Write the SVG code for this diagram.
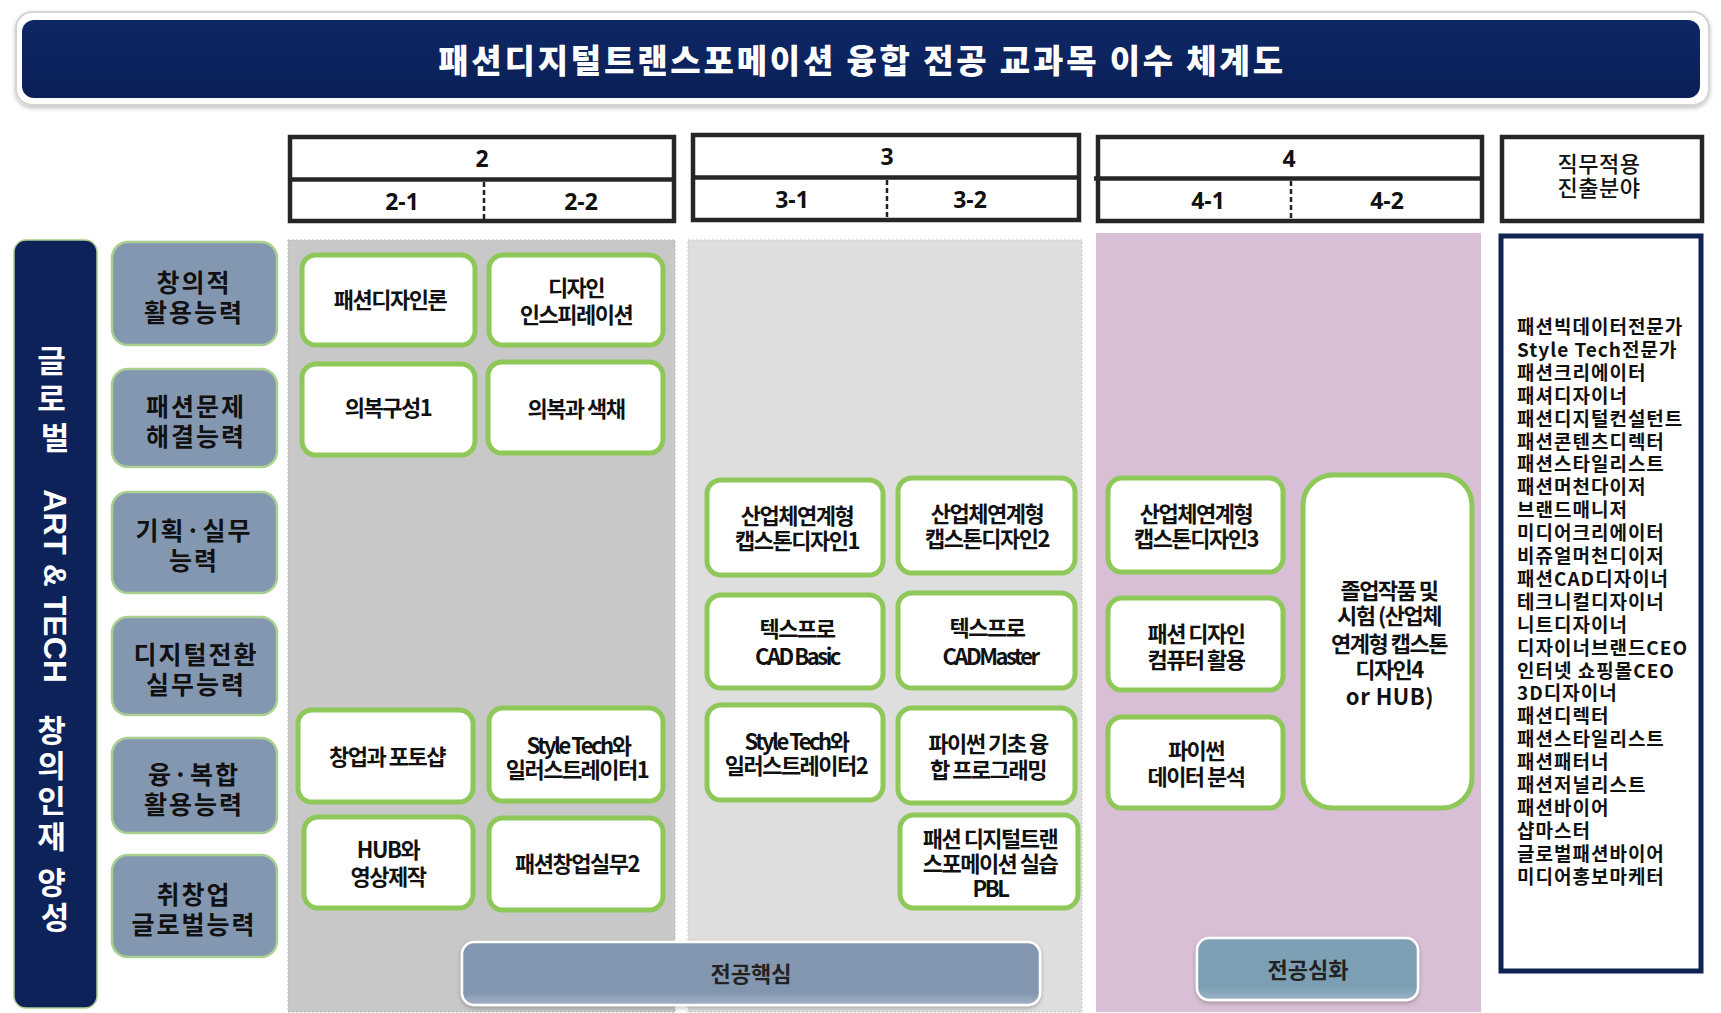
<svg xmlns="http://www.w3.org/2000/svg" width="1721" height="1013" viewBox="0 0 1721 1013">
<defs>
<style>
text{font-family:"Noto Sans CJK KR","Noto Sans",sans-serif;dominant-baseline:central;text-anchor:middle}
.title{font-size:33px;font-weight:900;fill:#fff;letter-spacing:2.8px}
.hdr{fill:#fff;stroke:#262626;stroke-width:4.5}
.hline{stroke:#262626;stroke-width:4.5}
.dash{stroke:#222;stroke-width:2.5;stroke-dasharray:5 3}
.yr{font-family:"Noto Sans","Liberation Sans",sans-serif;font-size:23px;font-weight:700;fill:#111}
.sem{font-family:"Noto Sans","Liberation Sans",sans-serif;font-size:23px;font-weight:700;fill:#111}
.jobh{font-size:22px;font-weight:500;fill:#111;letter-spacing:0.5px}
.vt{font-size:31px;font-weight:700;fill:#fff}
.vtl{font-family:"Liberation Sans","Noto Sans",sans-serif;font-size:32px;font-weight:700;fill:#fff}
.comp{fill:#8497B0;stroke:#A9D08E;stroke-width:2.5}
.ct{font-size:25px;font-weight:700;fill:#111;letter-spacing:2px}
.course{fill:#fff;stroke:#8DC859;stroke-width:5}
.cx{font-size:22px;font-weight:700;fill:#111;letter-spacing:-1.5px}
.cxc{font-size:22px;font-weight:700;fill:#111;letter-spacing:-2.5px}
.job{font-size:19px;font-weight:700;fill:#111;text-anchor:start;letter-spacing:1px}
.bart{font-size:22px;font-weight:700;fill:#222}
</style>
<linearGradient id="navy" x1="0" y1="0" x2="0" y2="1">
<stop offset="0" stop-color="#0E2866"/>
<stop offset="1" stop-color="#0A1F55"/>
</linearGradient>
<linearGradient id="core" x1="0" y1="0" x2="0" y2="1">
<stop offset="0" stop-color="#8497B0"/>
<stop offset="0.8" stop-color="#8396AF"/>
<stop offset="1" stop-color="#A3B1C5"/>
</linearGradient>
<linearGradient id="adv" x1="0" y1="0" x2="0" y2="1">
<stop offset="0" stop-color="#7FA1B6"/>
<stop offset="0.8" stop-color="#7C9EB3"/>
<stop offset="1" stop-color="#9DB6C6"/>
</linearGradient>
<filter id="sh" x="-5%" y="-20%" width="110%" height="140%">
<feDropShadow dx="0" dy="2" stdDeviation="2" flood-color="#000" flood-opacity="0.25"/>
</filter>
</defs>
<rect width="1721" height="1013" fill="#fff"/>

<g id="title">
<rect x="16" y="12" width="1693" height="93" rx="16" fill="#fff" stroke="#d4d4d4" stroke-width="2" filter="url(#sh)"/>
<rect x="22" y="20" width="1678" height="78" rx="12" fill="url(#navy)"/>
<text class="title" x="862" y="59">패션디지털트랜스포메이션 융합 전공 교과목 이수 체계도</text>
</g>

<g id="header-year2">
<rect class="hdr" x="290" y="137" width="384" height="84"/>
<line class="hline" x1="290" y1="179.5" x2="674" y2="179.5"/>
<line class="dash" x1="484" y1="182" x2="484" y2="219"/>
<text class="yr" x="482" y="158">2</text>
<text class="sem" x="402" y="201">2-1</text>
<text class="sem" x="581" y="201">2-2</text>
</g>
<g id="header-year3">
<rect class="hdr" x="693" y="135" width="386" height="85"/>
<line class="hline" x1="693" y1="177.5" x2="1079" y2="177.5"/>
<line class="dash" x1="887" y1="180" x2="887" y2="218"/>
<text class="yr" x="887" y="156">3</text>
<text class="sem" x="792" y="199">3-1</text>
<text class="sem" x="970" y="199">3-2</text>
</g>
<g id="header-year4">
<rect class="hdr" x="1098" y="137" width="384" height="84"/>
<line class="hline" x1="1094" y1="178.5" x2="1482" y2="178.5"/>
<line class="dash" x1="1291" y1="181" x2="1291" y2="219"/>
<text class="yr" x="1289" y="158">4</text>
<text class="sem" x="1208" y="200">4-1</text>
<text class="sem" x="1387" y="200">4-2</text>
</g>
<g id="header-job">
<rect class="hdr" x="1502" y="137" width="200" height="84"/>
<text class="jobh" x="1599" y="162">직무적용</text>
<text class="jobh" x="1599" y="186">진출분야</text>
</g>

<g id="columns">
<rect x="288" y="240" width="387" height="772" fill="#C8C8C8" stroke="#B8B8B8" stroke-width="1" stroke-dasharray="2 2"/>
<rect x="688" y="240" width="394" height="772" fill="#DEDEDE" stroke="#CACACA" stroke-width="1" stroke-dasharray="2 2"/>
<rect x="1096" y="233" width="385" height="779" fill="#D8BFD5"/>
</g>

<g id="vision">
<rect x="14" y="240" width="83" height="768" rx="12" fill="#0D2259" stroke="#A9D08E" stroke-width="1.5"/>
<text class="vt">
<tspan x="55" y="358">글</tspan>
<tspan x="55" y="396">로</tspan>
<tspan x="55" y="435">벌</tspan>
</text>
<text class="vtl" transform="translate(55,586) rotate(90)">ART &amp; TECH</text>
<text class="vt">
<tspan x="55" y="728">창</tspan>
<tspan x="55" y="763">의</tspan>
<tspan x="55" y="798">인</tspan>
<tspan x="55" y="834">재</tspan>
<tspan x="55" y="880">양</tspan>
<tspan x="55" y="915">성</tspan>
</text>
</g>

<g id="comp1"><rect class="comp" x="112" y="242" width="165" height="103" rx="16"/><text class="ct" x="194" y="281">창의적</text><text class="ct" x="194" y="311">활용능력</text></g>
<g id="comp2"><rect class="comp" x="112" y="369" width="165" height="98" rx="16"/><text class="ct" x="196" y="405">패션문제</text><text class="ct" x="196" y="435">해결능력</text></g>
<g id="comp3"><rect class="comp" x="112" y="492" width="165" height="101" rx="16"/><text class="ct" x="194" y="529">기획·실무</text><text class="ct" x="194" y="559">능력</text></g>
<g id="comp4"><rect class="comp" x="112" y="617" width="165" height="98" rx="16"/><text class="ct" x="196" y="653">디지털전환</text><text class="ct" x="196" y="683">실무능력</text></g>
<g id="comp5"><rect class="comp" x="112" y="738" width="165" height="95" rx="16"/><text class="ct" x="194" y="773">융·복합</text><text class="ct" x="194" y="803">활용능력</text></g>
<g id="comp6"><rect class="comp" x="112" y="855" width="165" height="102" rx="16"/><text class="ct" x="194" y="893">취창업</text><text class="ct" x="194" y="923">글로벌능력</text></g>

<g id="c-fashion-design-theory"><rect class="course" x="302" y="255" width="173" height="90" rx="14"/><text class="cx" x="390" y="298">패션디자인론</text></g>
<g id="c-design-inspiration"><rect class="course" x="489" y="255" width="174" height="90" rx="14"/><text class="cx" x="576" y="286">디자인</text><text class="cx" x="576" y="313">인스피레이션</text></g>
<g id="c-clothing1"><rect class="course" x="302" y="364" width="173" height="91" rx="14"/><text class="cx" x="388" y="406">의복구성1</text></g>
<g id="c-clothing-color"><rect class="course" x="488" y="362" width="175" height="91" rx="14"/><text class="cx" x="576" y="407">의복과 색채</text></g>
<g id="c-startup-photoshop"><rect class="course" x="298" y="710" width="175" height="92" rx="14"/><text class="cx" x="387" y="755">창업과 포토샵</text></g>
<g id="c-styletech1"><rect class="course" x="489" y="708" width="174" height="93" rx="14"/><text class="cxc" x="578" y="744">Style Tech와</text><text class="cx" x="577" y="768">일러스트레이터1</text></g>
<g id="c-hub-video"><rect class="course" x="304" y="817" width="169" height="91" rx="14"/><text class="cx" x="388" y="848">HUB와</text><text class="cx" x="388" y="875">영상제작</text></g>
<g id="c-startup2"><rect class="course" x="489" y="818" width="174" height="92" rx="14"/><text class="cx" x="577" y="862">패션창업실무2</text></g>

<g id="c-capstone1"><rect class="course" x="707" y="480" width="176" height="95" rx="14"/><text class="cx" x="797" y="514">산업체연계형</text><text class="cx" x="797" y="539">캡스톤디자인1</text></g>
<g id="c-capstone2"><rect class="course" x="898" y="478" width="177" height="95" rx="14"/><text class="cx" x="987" y="512">산업체연계형</text><text class="cx" x="987" y="537">캡스톤디자인2</text></g>
<g id="c-texpro-basic"><rect class="course" x="707" y="595" width="176" height="93" rx="14"/><text class="cx" x="797" y="627">텍스프로</text><text class="cxc" x="797" y="655">CAD Basic</text></g>
<g id="c-texpro-master"><rect class="course" x="898" y="593" width="177" height="95" rx="14"/><text class="cx" x="987" y="626">텍스프로</text><text class="cxc" x="990" y="655">CADMaster</text></g>
<g id="c-styletech2"><rect class="course" x="707" y="705" width="176" height="95" rx="14"/><text class="cxc" x="796" y="740">Style Tech와</text><text class="cx" x="796" y="764">일러스트레이터2</text></g>
<g id="c-python-basic"><rect class="course" x="898" y="708" width="177" height="95" rx="14"/><text class="cx" x="988" y="742">파이썬 기초 융</text><text class="cx" x="988" y="768">합 프로그래밍</text></g>
<g id="c-dt-pbl"><rect class="course" x="900" y="815" width="178" height="93" rx="14"/><text class="cx" x="990" y="837">패션 디지털트랜</text><text class="cx" x="990" y="862">스포메이션 실습</text><text class="cxc" x="990" y="887">PBL</text></g>

<g id="c-capstone3"><rect class="course" x="1108" y="478" width="175" height="94" rx="14"/><text class="cx" x="1196" y="512">산업체연계형</text><text class="cx" x="1196" y="537">캡스톤디자인3</text></g>
<g id="c-computer"><rect class="course" x="1108" y="598" width="175" height="92" rx="14"/><text class="cx" x="1196" y="632">패션 디자인</text><text class="cx" x="1196" y="658">컴퓨터 활용</text></g>
<g id="c-python-data"><rect class="course" x="1108" y="717" width="175" height="91" rx="14"/><text class="cx" x="1196" y="749">파이썬</text><text class="cx" x="1196" y="775">데이터 분석</text></g>
<g id="c-graduation"><rect class="course" x="1303" y="475" width="169" height="333" rx="30"/><text class="cx" x="1389" y="589">졸업작품 및</text><text class="cx" x="1389" y="614">시험 (산업체</text><text class="cx" x="1389" y="642">연계형 캡스톤</text><text class="cx" x="1389" y="668">디자인4</text><text class="cx" x="1390" y="695" style="letter-spacing:0.5px">or HUB)</text></g>

<g id="bar-core"><rect x="462" y="942" width="578" height="63" rx="12" fill="url(#core)" stroke="#fff" stroke-width="2.5" filter="url(#sh)"/><text class="bart" x="751" y="972">전공핵심</text></g>
<g id="bar-advanced"><rect x="1197" y="938" width="221" height="62" rx="12" fill="url(#adv)" stroke="#fff" stroke-width="2.5" filter="url(#sh)"/><text class="bart" x="1308" y="968">전공심화</text></g>

<g id="jobs">
<rect x="1501" y="236" width="200" height="735" fill="#fff" stroke="#0F2452" stroke-width="5"/>
<text class="job">
<tspan x="1517" y="325">패션빅데이터전문가</tspan>
<tspan x="1517" y="347.9">Style Tech전문가</tspan>
<tspan x="1517" y="370.8">패션크리에이터</tspan>
<tspan x="1517" y="393.7">패셔디자이너</tspan>
<tspan x="1517" y="416.6">패션디지털컨설턴트</tspan>
<tspan x="1517" y="439.5">패션콘텐츠디렉터</tspan>
<tspan x="1517" y="462.4">패션스타일리스트</tspan>
<tspan x="1517" y="485.3">패션머천다이저</tspan>
<tspan x="1517" y="508.2">브랜드매니저</tspan>
<tspan x="1517" y="531.1">미디어크리에이터</tspan>
<tspan x="1517" y="554">비쥬얼머천디이저</tspan>
<tspan x="1517" y="576.9">패션CAD디자이너</tspan>
<tspan x="1517" y="599.8">테크니컬디자이너</tspan>
<tspan x="1517" y="622.7">니트디자이너</tspan>
<tspan x="1517" y="645.6">디자이너브랜드CEO</tspan>
<tspan x="1517" y="668.5">인터넷 쇼핑몰CEO</tspan>
<tspan x="1517" y="691.4">3D디자이너</tspan>
<tspan x="1517" y="714.3">패션디렉터</tspan>
<tspan x="1517" y="737.2">패션스타일리스트</tspan>
<tspan x="1517" y="760.1">패션패터너</tspan>
<tspan x="1517" y="783">패션저널리스트</tspan>
<tspan x="1517" y="805.9">패션바이어</tspan>
<tspan x="1517" y="828.8">샵마스터</tspan>
<tspan x="1517" y="851.7">글로벌패션바이어</tspan>
<tspan x="1517" y="874.6">미디어홍보마케터</tspan>
</text>
</g>

<g id="connectors"/>
</svg>
